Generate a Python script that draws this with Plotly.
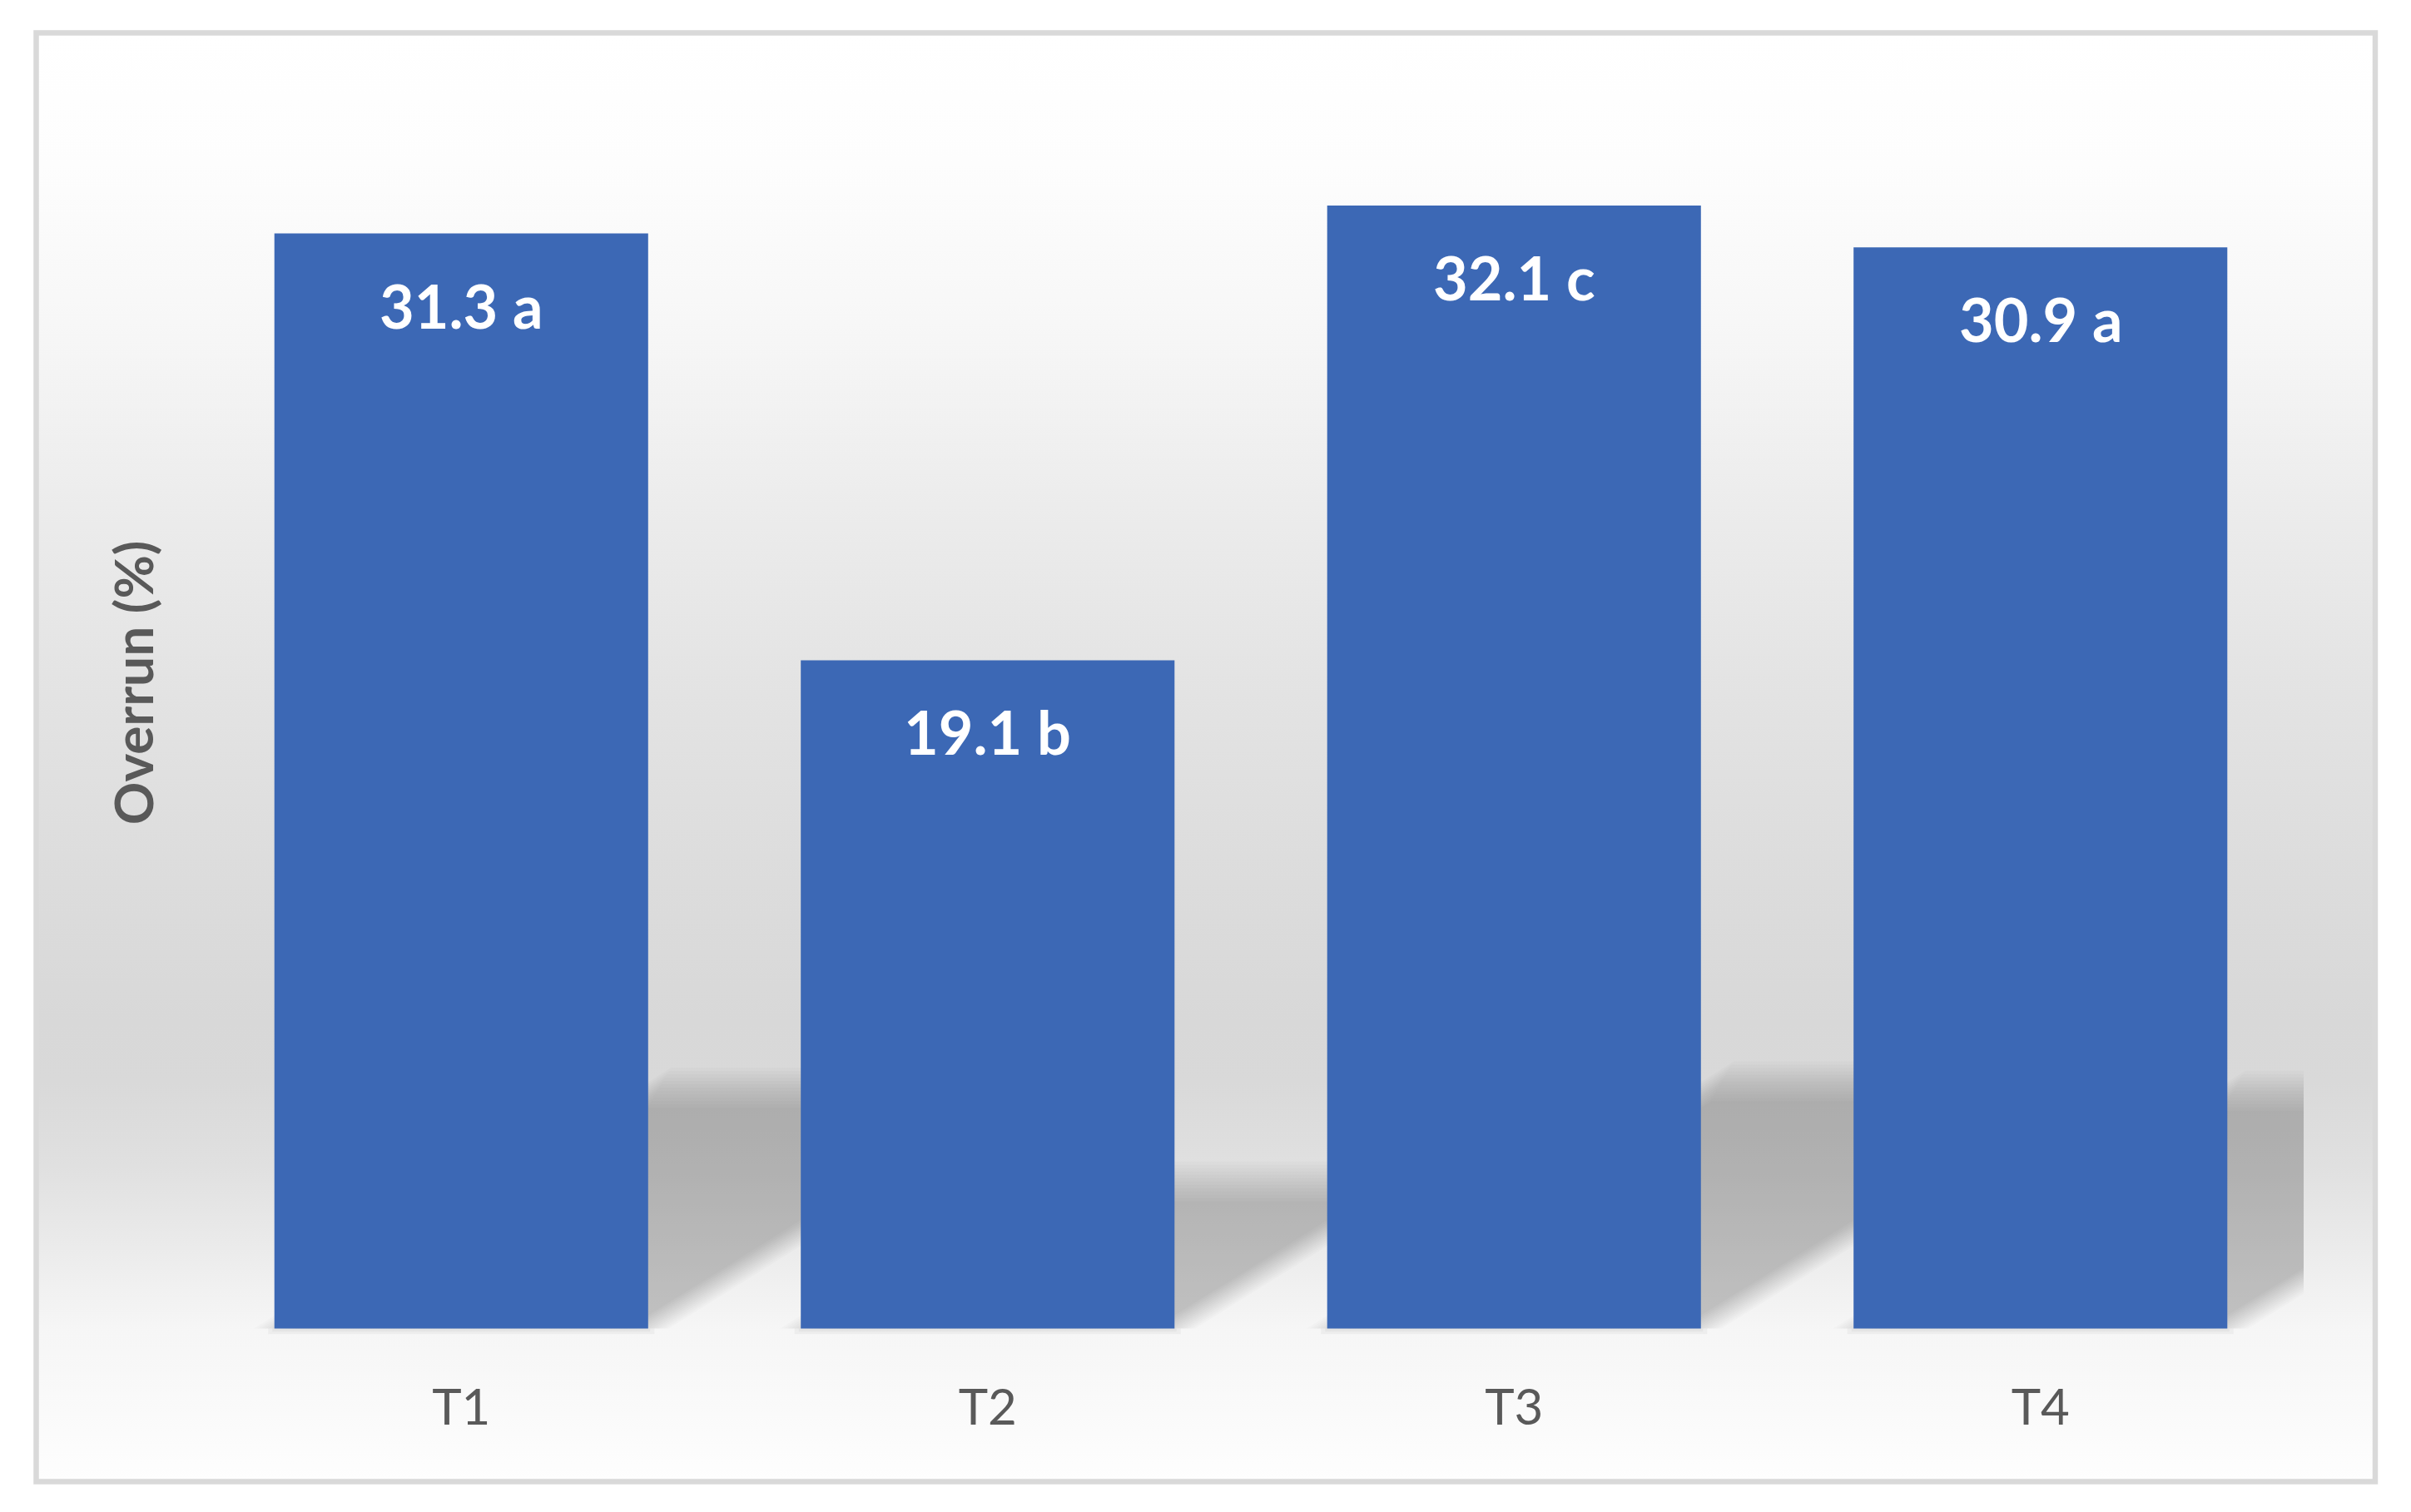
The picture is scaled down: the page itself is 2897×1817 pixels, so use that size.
import base64
import math
import plotly.graph_objects as go

# ---------------- data ----------------
categories = ["T1", "T2", "T3", "T4"]
values = [31.3, 19.1, 32.1, 30.9]
letters = ["a", "b", "c", "a"]
axis_title = "Overrun (%)"

# ---------------- geometry / style ----------------
OFF = 8                      # page body margin of the html page
W, H = 2897 - 2 * OFF, 1817 - 2 * OFF
LEFT_X, RIGHT_X = 238, 2768  # plot area in page pixels
TOP_Y, BASE_Y = 125, 1596    # y pixel of YMAX and of 0
YMAX, YMIN = 35, -0.25
BAR_W = 0.71
BAR_COLOR = "#3c68b5"
TEXT_GRAY = "#595959"

py_unit = (BASE_Y - TOP_Y) / YMAX
bottom_y = BASE_Y + (-YMIN) * py_unit
ML = LEFT_X - OFF
MR = W - (RIGHT_X - OFF)
MT = TOP_Y - OFF
MB = H - (bottom_y - OFF)
PW = W - ML - MR
PH = H - MT - MB
px_cat = PW / len(categories)


def paper_x(p):          # page pixel -> paper fraction
    return (p - OFF - ML) / PW


def paper_y(p):
    return (H - MB - (p - OFF)) / PH


# chart-area gradient as an SVG image
stops = [
    (0.00, "#ffffff"), (0.09, "#fdfdfd"), (0.20, "#f7f7f7"), (0.326, "#ececec"),
    (0.456, "#e3e3e3"), (0.586, "#dcdcdc"), (0.683, "#d8d8d8"), (0.724, "#d9d9d9"),
    (0.782, "#e0e0e0"), (0.839, "#ebebeb"), (0.868, "#f1f1f1"), (0.896, "#f6f6f6"),
    (0.925, "#f8f8f8"), (0.966, "#fbfbfb"), (1.00, "#fefefe"),
]
stop_xml = "".join(f'<stop offset="{o}" stop-color="{c}"/>' for o, c in stops)
svg = ('<svg xmlns="http://www.w3.org/2000/svg" width="100" height="100" '
       'viewBox="0 0 100 100" preserveAspectRatio="none"><defs>'
       f'<linearGradient id="g" x1="0" y1="0" x2="0" y2="1">{stop_xml}</linearGradient>'
       '</defs><rect x="0" y="0" width="100" height="100" fill="url(#g)"/></svg>')
svg_uri = "data:image/svg+xml;base64," + base64.b64encode(svg.encode()).decode()

BX0, BY0, BX1, BY1 = 43.5, 39.5, 2854, 1780

fig = go.Figure()
fig.add_trace(go.Bar(
    x=categories, y=values,
    marker=dict(color=BAR_COLOR, line=dict(width=0)),
    hoverinfo="skip", showlegend=False,
))

shapes = []
shapes.append(dict(type="rect", xref="paper", yref="paper",
                   x0=paper_x(BX0), x1=paper_x(BX1), y0=paper_y(BY1), y1=paper_y(BY0),
                   line=dict(color="#d9d9d9", width=6.5), fillcolor="rgba(0,0,0,0)",
                   layer="below"))

# perspective shadows behind the bars, derived from the values (soft edges by layering)
SH_FRAC = 0.22
SKEW = 1.6
offsets = list(range(-24, 25, 4))
alpha = 1 - (1 - 0.175) ** (1 / len(offsets))
for i, v in enumerate(values):
    L, R = i - BAR_W / 2, i + BAR_W / 2
    h = SH_FRAC * v
    for d in offsets:
        ht = h - d / py_unit
        dd = 0.55 * d
        dx = dd * math.sqrt(1 + SKEW ** 2) / px_cat
        s_top = SKEW * ht * py_unit / px_cat
        pts = [(L + dx, 0), (R - dx, 0), (R - dx + s_top, ht), (L + dx + s_top, ht)]
        path = "M " + " L ".join(f"{x:.5f},{y:.5f}" for x, y in pts) + " Z"
        shapes.append(dict(type="path", xref="x", yref="y", path=path,
                           fillcolor=f"rgba(0,0,0,{alpha:.4f})",
                           line=dict(width=0), layer="below"))
    # faint contact shadow just under the bar foot
    for ext, dep in ((0.012, 0.16), (0.004, 0.09)):
        shapes.append(dict(type="rect", xref="x", yref="y",
                           x0=L - ext, x1=R + ext, y0=-dep, y1=0,
                           fillcolor="rgba(0,0,0,0.035)", line=dict(width=0),
                           layer="below"))

annotations = []
for c, v, l in zip(categories, values, letters):
    annotations.append(dict(
        x=c, y=v, xref="x", yref="y", text=f"{v:.1f} {l}", showarrow=False,
        yshift=-86, yanchor="middle", xanchor="center",
        font=dict(family="Lato", size=72, color="white", weight=700)))

annotations.append(dict(
    x=paper_x(159), y=paper_y(820), xref="paper", yref="paper", text=axis_title,
    textangle=-90, showarrow=False, xanchor="center", yanchor="middle",
    font=dict(family="Lato", size=64, color=TEXT_GRAY, weight=700)))

fig.update_layout(
    template="none",
    width=W, height=H,
    margin=dict(l=ML, r=MR, t=MT, b=MB, pad=0, autoexpand=False),
    paper_bgcolor="white",
    plot_bgcolor="rgba(0,0,0,0)",
    bargap=1 - BAR_W,
    showlegend=False,
    shapes=shapes,
    annotations=annotations,
    images=[dict(source=svg_uri, xref="paper", yref="paper",
                 x=paper_x(BX0), y=paper_y(BY0),
                 sizex=(BX1 - BX0) / PW, sizey=(BY1 - BY0) / PH,
                 xanchor="left", yanchor="top", sizing="stretch", layer="below")],
    xaxis=dict(type="category", range=[-0.5, len(categories) - 0.5],
               showgrid=False, showline=False, zeroline=False, ticks="",
               tickfont=dict(family="Lato", size=60, color=TEXT_GRAY),
               ticklabelstandoff=44, automargin=False, fixedrange=True),
    yaxis=dict(range=[YMIN, YMAX], visible=False, showgrid=False, zeroline=False,
               automargin=False, fixedrange=True),
)

fig.write_html("out.html")
